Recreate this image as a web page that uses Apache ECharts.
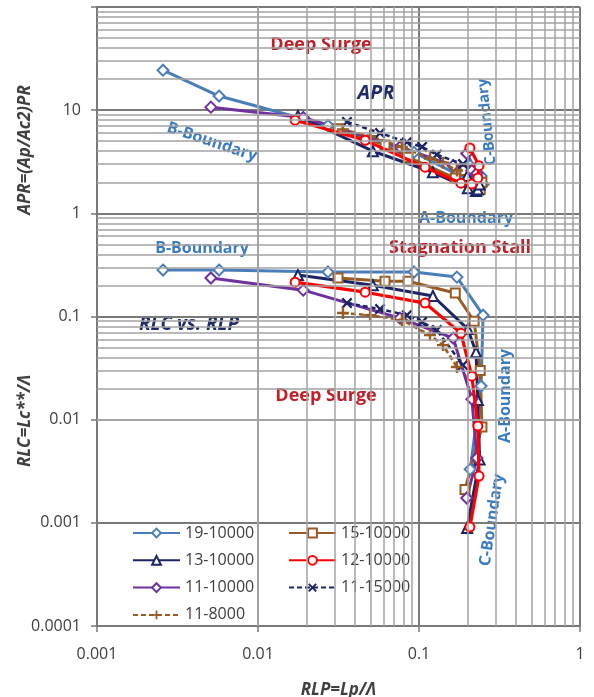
<!DOCTYPE html>
<html>
<head>
<meta charset="utf-8">
<script src="https://cdn.jsdelivr.net/npm/echarts@6/dist/echarts.min.js"></script>
<style>
html, body { margin: 0; padding: 0; background: #fff; }
#chart { width: 594px; height: 697px; }
</style>
</head>
<body>
<div id="chart"></div>
<script>
// series names, legend order
const names = ['19-10000', '15-10000', '13-10000', '12-10000', '11-10000', '11-15000', '11-8000'];

// RLP (x), APR (upper curve) and RLC (lower curve) for every run
const rlp19 = [0.00257, 0.00573, 0.0272, 0.0931, 0.172, 0.250, 0.243, 0.208];
const apr19 = [24.4, 13.7, 7.1, 3.9, 2.4, 1.9, 2.3, 2.9];
const rlc19 = [0.282, 0.282, 0.270, 0.270, 0.241, 0.103, 0.0212, 0.0033];

const rlp15 = [0.0314, 0.0615, 0.0855, 0.168, 0.220, 0.240, 0.246, 0.193];
const apr15 = [6.6, 4.6, 3.5, 2.2, 1.75, 1.7, 2.0, 2.6];
const rlc15 = [0.236, 0.220, 0.220, 0.169, 0.090, 0.030, 0.0085, 0.0021];

const rlp13 = [0.0177, 0.0517, 0.122, 0.201, 0.226, 0.232, 0.238, 0.199];
const apr13 = [8.8, 4.0, 2.5, 1.75, 1.65, 1.7, 1.9, 2.3];
const rlc13 = [0.252, 0.201, 0.158, 0.0755, 0.045, 0.0155, 0.0041, 0.00089];

const rlp12 = [0.0170, 0.0463, 0.109, 0.182, 0.213, 0.232, 0.236, 0.207];
const apr12 = [8.0, 5.1, 2.8, 1.96, 1.92, 2.2, 2.9, 4.3];
const rlc12 = [0.215, 0.172, 0.135, 0.069, 0.0264, 0.00867, 0.00284, 0.00091];

const rlp1110 = [0.0051, 0.0191, 0.0762, 0.163, 0.213, 0.229, 0.198];
const apr1110 = [10.7, 8.5, 4.4, 2.9, 2.6, 2.45, 3.8];
const rlc1110 = [0.236, 0.180, 0.0964, 0.0618, 0.0158, 0.00425, 0.00174];

const rlp1115 = [0.0357, 0.0573, 0.0841, 0.1045, 0.129, 0.1875];
const apr1115 = [7.7, 6.0, 4.9, 4.4, 3.7, 3.0];
const rlc1115 = [0.135, 0.118, 0.103, 0.0883, 0.0738, 0.0338];

const rlp118 = [0.0337, 0.0497, 0.0783, 0.117, 0.141, 0.172];
const apr118 = [6.5, 5.6, 4.4, 3.4, 3.1, 2.6];
const rlc118 = [0.108, 0.103, 0.0923, 0.066, 0.0528, 0.0324];

const runs = {
  '19-10000': [rlp19, apr19, rlc19],
  '15-10000': [rlp15, apr15, rlc15],
  '13-10000': [rlp13, apr13, rlc13],
  '12-10000': [rlp12, apr12, rlc12],
  '11-10000': [rlp1110, apr1110, rlc1110],
  '11-15000': [rlp1115, apr1115, rlc1115],
  '11-8000': [rlp118, apr118, rlc118]
};

const X_MARK = 'path://M0,1.5 L1.5,0 L5,3.5 L8.5,0 L10,1.5 L6.5,5 L10,8.5 L8.5,10 L5,6.5 L1.5,10 L0,8.5 L3.5,5 Z';
const PLUS_MARK = 'path://M4,0 L6,0 L6,4 L10,4 L10,6 L6,6 L6,10 L4,10 L4,6 L0,6 L0,4 L4,4 Z';

const styles = {
  '19-10000': { color: '#4a7ebb', symbol: 'diamond', size: 11, hollow: true, dash: 'solid', width: 3, z: 2 },
  '15-10000': { color: '#9a5b22', symbol: 'rect', size: 9, hollow: true, dash: 'solid', width: 3, z: 2 },
  '13-10000': { color: '#1c2565', symbol: 'triangle', size: 10, hollow: true, dash: 'solid', width: 3, z: 2 },
  '12-10000': { color: '#ff0000', symbol: 'circle', size: 9, hollow: true, dash: 'solid', width: 3.2, z: 4 },
  '11-10000': { color: '#7030a0', symbol: 'diamond', size: 11, hollow: true, dash: 'solid', width: 3, z: 2 },
  '11-15000': { color: '#1c2565', symbol: X_MARK, size: 11, hollow: false, dash: [5, 3], width: 2.5, z: 3 },
  '11-8000': { color: '#9a5b22', symbol: PLUS_MARK, size: 12, hollow: false, dash: [5, 3], width: 2.5, z: 3 }
};

// minor grid positions (2..9 in each decade)
const minorX = [];
for (let d = -3; d < 0; d++) for (let k = 2; k <= 9; k++) minorX.push(+(k * Math.pow(10, d)).toPrecision(3));
const minorY = [];
for (let d = -4; d < 2; d++) for (let k = 2; k <= 9; k++) minorY.push(+(k * Math.pow(10, d)).toPrecision(3));

const FONT = '"Open Sans", "Liberation Sans", sans-serif';
const GRID_MAJOR = '#7a7a7a';
const GRID_MINOR = '#a3a3a3';

function pairs(xs, ys) {
  return xs.map((x, i) => [x, ys[i]]);
}

const series = [{
  type: 'line',
  data: [],
  silent: true,
  z: 1,
  markLine: {
    silent: true,
    animation: false,
    symbol: ['none', 'none'],
    label: { show: false },
    lineStyle: { color: GRID_MINOR, width: 1.5, type: 'solid' },
    data: minorX.map(v => ({ xAxis: v })).concat(minorY.map(v => ({ yAxis: v })))
  }
}];

names.forEach(name => {
  const s = styles[name];
  const r = runs[name];
  [pairs(r[0], r[1]), pairs(r[0], r[2])].forEach(data => {
    series.push({
      name: name,
      type: 'line',
      data: data,
      z: s.z,
      symbol: s.symbol,
      symbolSize: s.size,
      showAllSymbol: true,
      lineStyle: { color: s.color, width: s.width, type: s.dash },
      itemStyle: s.hollow
        ? { color: '#ffffff', borderColor: s.color, borderWidth: 2 }
        : { color: s.color, borderColor: s.color, borderWidth: 0 },
      emphasis: { disabled: true }
    });
  });
});

function logLabel(v) {
  if (v >= 100) return '';
  return String(+v.toPrecision(3));
}

const axisCommon = {
  type: 'log',
  logBase: 10,
  axisLine: { show: true, lineStyle: { color: '#7a7a7a', width: 2 } },
  axisTick: { show: true, length: 6, lineStyle: { color: '#7a7a7a', width: 1.5 } },
  splitLine: { show: true, lineStyle: { color: GRID_MAJOR, width: 2 } },
  minorTick: { show: false },
  minorSplitLine: { show: false }
};

const legendText = { fontSize: 16, color: '#404040', fontFamily: FONT, lineHeight: 16 };

const chart = echarts.init(document.getElementById('chart'));
chart.setOption({
  animation: false,
  backgroundColor: '#ffffff',
  grid: { left: 97, right: 14, top: 7, bottom: 71, outerBoundsMode: 'none' },
  xAxis: Object.assign({}, axisCommon, {
    min: 0.001,
    max: 1,
    axisLabel: { formatter: logLabel, fontSize: 16, color: '#404040', fontFamily: FONT, margin: 20, showMinLabel: true, showMaxLabel: true },
    name: 'RLP=Lp/Λ',
    nameLocation: 'middle',
    nameGap: 56,
    nameTextStyle: { fontSize: 17, fontWeight: 'bold', fontStyle: 'italic', color: '#404040', fontFamily: FONT }
  }),
  yAxis: Object.assign({}, axisCommon, {
    min: 0.0001,
    max: 100,
    axisLabel: { formatter: logLabel, fontSize: 16, color: '#404040', fontFamily: FONT, margin: 16, showMinLabel: true, showMaxLabel: true }
  }),
  legend: [
    {
      data: ['19-10000', '13-10000', '11-10000', '11-8000'],
      left: 127, top: 520, orient: 'vertical',
      itemWidth: 47, itemHeight: 11, itemGap: 11.3, itemTextGap: 3, selectedMode: false,
      textStyle: legendText
    },
    {
      data: ['15-10000', '12-10000', '11-15000'],
      left: 283, top: 520, orient: 'vertical',
      itemWidth: 47, itemHeight: 11, itemGap: 11.3, itemTextGap: 3, selectedMode: false,
      textStyle: legendText
    }
  ],
  graphic: [
    { type: 'text', x: 25, y: 150, rotation: Math.PI / 2, style: { text: 'APR=(Ap/Ac2)PR', fill: '#404040', font: 'italic bold 17px ' + FONT, textAlign: 'center', textVerticalAlign: 'middle' } },
    { type: 'text', x: 25, y: 421, rotation: Math.PI / 2, style: { text: 'RLC=Lc**/Λ', fill: '#404040', font: 'italic bold 17px ' + FONT, textAlign: 'center', textVerticalAlign: 'middle' } },
    { type: 'text', x: 321, y: 45, style: { text: 'Deep Surge', fill: '#c0202a', font: 'bold 18px ' + FONT, textAlign: 'center', textVerticalAlign: 'middle' } },
    { type: 'text', x: 376, y: 93, style: { text: 'APR', fill: '#1f2a6b', font: 'italic bold 20px ' + FONT, textAlign: 'center', textVerticalAlign: 'middle' } },
    { type: 'text', x: 212, y: 142, rotation: -0.32, style: { text: 'B-Boundary', fill: '#3b7cc0', font: 'bold 16px ' + FONT, textAlign: 'center', textVerticalAlign: 'middle' } },
    { type: 'text', x: 487, y: 122, rotation: 1.67, style: { text: 'C-Boundary', fill: '#3b7cc0', font: 'bold 15px ' + FONT, textAlign: 'center', textVerticalAlign: 'middle' } },
    { type: 'text', x: 466, y: 218, style: { text: 'A-Boundary', fill: '#3b7cc0', font: 'bold 16px ' + FONT, textAlign: 'center', textVerticalAlign: 'middle' } },
    { type: 'text', x: 460, y: 248, style: { text: 'Stagnation Stall', fill: '#c0202a', font: 'bold 18px ' + FONT, textAlign: 'center', textVerticalAlign: 'middle' } },
    { type: 'text', x: 202, y: 248, style: { text: 'B-Boundary', fill: '#3b7cc0', font: 'bold 16px ' + FONT, textAlign: 'center', textVerticalAlign: 'middle' } },
    { type: 'text', x: 189, y: 325, style: { text: 'RLC vs. RLP', fill: '#1f2a6b', font: 'italic bold 19px ' + FONT, textAlign: 'center', textVerticalAlign: 'middle' } },
    { type: 'text', x: 326, y: 396, style: { text: 'Deep Surge', fill: '#c0202a', font: 'bold 18px ' + FONT, textAlign: 'center', textVerticalAlign: 'middle' } },
    { type: 'text', x: 505, y: 396, rotation: Math.PI / 2, style: { text: 'A-Boundary', fill: '#3b7cc0', font: 'bold 16px ' + FONT, textAlign: 'center', textVerticalAlign: 'middle' } },
    { type: 'text', x: 492, y: 520, rotation: 1.42, style: { text: 'C-Boundary', fill: '#3b7cc0', font: 'bold 16px ' + FONT, textAlign: 'center', textVerticalAlign: 'middle' } }
  ],
  series: series
});
</script>
</body>
</html>
